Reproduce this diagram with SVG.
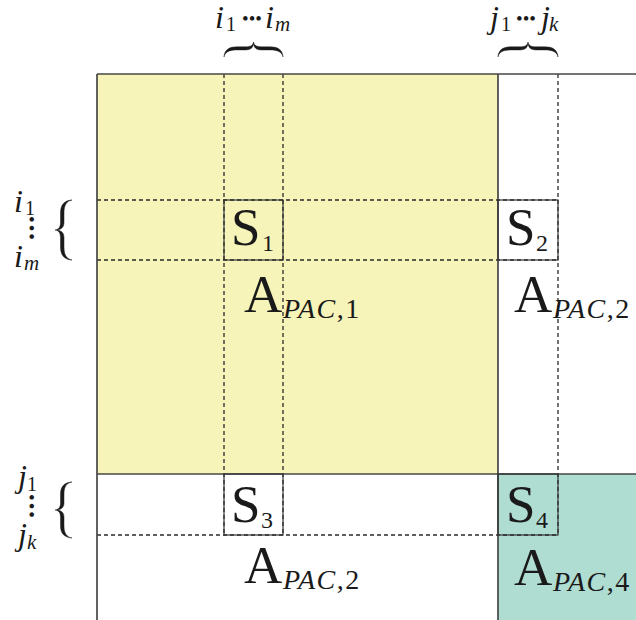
<svg xmlns="http://www.w3.org/2000/svg" width="636" height="620" viewBox="0 0 636 620">
<style>
.frame{stroke:#464646;stroke-width:1.7;fill:none}
.box{stroke:#333;stroke-width:1.2;fill:none}
.dash{stroke:#2a2a2a;stroke-width:1.3;stroke-dasharray:4 3;fill:none}
.brace{fill:#1a1a1a;stroke:#1a1a1a;stroke-width:0.5}
.t{font-family:"Liberation Serif","Times New Roman",serif;fill:#1a1a1a}
.big{font-size:53px}
.sub{font-size:24px}
.psub{font-size:28px;font-style:italic;letter-spacing:1.5px}
.up{font-style:normal}
.it{font-style:italic;font-size:32px}
.its{font-style:italic;font-size:21px}
.ns{font-size:20px}
.dots{font-size:19px}
</style>
<defs>
<path id="brace" d="M17,0 C9,0.5 5.5,5 5.5,13 L5.5,22 C5.5,27 4,29.3 0,30 C4,30.7 5.5,33 5.5,38 L5.5,47 C5.5,55 9,59.5 17,60 C11.5,59 9,55 9,47 L9,38 C9,33 7,30.8 2,30 C7,29.2 9,27 9,22 L9,13 C9,5 11.5,1 17,0 Z"/>
</defs>
<g id="regions">
<rect x="97" y="74" width="401" height="400" fill="#f6f4b9"/>
<rect x="498" y="474" width="138" height="146" fill="#afddd2"/>
</g>
<g id="connectors">
<line class="dash" x1="224" y1="74" x2="224" y2="535"/>
<line class="dash" x1="283" y1="74" x2="283" y2="535"/>
<line class="dash" x1="558" y1="74" x2="558" y2="535"/>
<line class="dash" x1="97" y1="200" x2="558" y2="200"/>
<line class="dash" x1="97" y1="260" x2="558" y2="260"/>
<line class="dash" x1="97" y1="535" x2="558" y2="535"/>
<line class="frame" x1="97" y1="74" x2="636" y2="74"/>
<line class="frame" x1="97" y1="74" x2="97" y2="620"/>
<line class="frame" x1="498" y1="74" x2="498" y2="620"/>
<line class="frame" x1="97" y1="474" x2="636" y2="474"/>
</g>
<g id="S1">
<rect class="box" x="224" y="200" width="59" height="60"/>
<text class="t big" x="231" y="245">S<tspan class="sub" x="262" y="251">1</tspan></text>
</g>
<g id="S2">
<rect class="box" x="498" y="200" width="60" height="60"/>
<text class="t big" x="506" y="245">S<tspan class="sub" x="536" y="251">2</tspan></text>
</g>
<g id="S3">
<rect class="box" x="224" y="474" width="59" height="61"/>
<text class="t big" x="231" y="522">S<tspan class="sub" x="261" y="528">3</tspan></text>
</g>
<g id="S4">
<rect class="box" x="498" y="474" width="60" height="61"/>
<text class="t big" x="506" y="522">S<tspan class="sub" x="536" y="528">4</tspan></text>
</g>
<g id="A1">
<text class="t big" x="244" y="312">A<tspan class="psub" x="283" y="318">PAC<tspan class="up">,1</tspan></tspan></text>
</g>
<g id="A2top">
<text class="t big" x="514" y="312">A<tspan class="psub" x="553" y="318">PAC<tspan class="up">,2</tspan></tspan></text>
</g>
<g id="A2bottom">
<text class="t big" x="244" y="583">A<tspan class="psub" x="283" y="589">PAC<tspan class="up">,2</tspan></tspan></text>
</g>
<g id="A4">
<text class="t big" x="514" y="585">A<tspan class="psub" x="553" y="591">PAC<tspan class="up">,4</tspan></tspan></text>
</g>
<g id="label-top-i">
<text class="t it" x="215" y="28">i</text>
<text class="t ns" x="226" y="31">1</text>
<text class="t dots" x="242" y="25">•••</text>
<text class="t it" x="265" y="28">i</text>
<text class="t its" x="275" y="31">m</text>
<use href="#brace" class="brace" transform="translate(283,42) rotate(90) scale(0.88,0.983)"/>
</g>
<g id="label-top-j">
<text class="t it" x="490" y="28">j</text>
<text class="t ns" x="501" y="31">1</text>
<text class="t dots" x="516" y="25">•••</text>
<text class="t it" x="541" y="28">j</text>
<text class="t its" x="549" y="31">k</text>
<use href="#brace" class="brace" transform="translate(558,42) rotate(90) scale(0.88,1)"/>
</g>
<g id="label-left-i">
<text class="t it" x="14" y="212">i</text>
<text class="t ns" x="25" y="215">1</text>
<text class="t dots" transform="translate(25,216) rotate(90)" letter-spacing="2">•••</text>
<text class="t it" x="14" y="267">i</text>
<text class="t its" x="24" y="270">m</text>
<use href="#brace" class="brace" transform="translate(55,200)"/>
</g>
<g id="label-left-j">
<text class="t it" x="18" y="487">j</text>
<text class="t ns" x="27" y="491">1</text>
<text class="t dots" transform="translate(25,494) rotate(90)" letter-spacing="2">•••</text>
<text class="t it" x="18" y="545">j</text>
<text class="t its" x="27" y="549">k</text>
<use href="#brace" class="brace" transform="translate(55,482) scale(1,0.933)"/>
</g>
</svg>
